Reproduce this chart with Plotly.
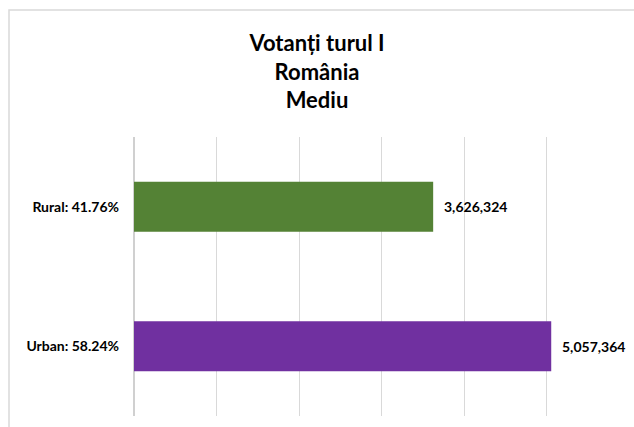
import plotly.graph_objects as go

categories = ["Urban: 58.24%", "Rural: 41.76%"]
values = [5057364, 3626324]
colors = ["#7030A0", "#548235"]
value_labels = ["5,057,364", "3,626,324"]
title_lines = ["Votanți turul I", "România", "Mediu"]

W, H = 634, 427
ml, mr, mt, mb = 134, 5, 137, 11
pw = W - ml - mr
ph = H - mt - mb
FONT = "Lato, Open Sans, sans-serif"

fig = go.Figure()
fig.add_trace(go.Bar(
    y=categories, x=values, orientation="h",
    marker=dict(color=colors, line=dict(width=0)),
    width=0.36,
))

for cat, val, lab in zip(categories, values, value_labels):
    fig.add_annotation(x=val, y=cat, xref="x", yref="y", text="<b>" + lab + "</b>",
                       showarrow=False, xanchor="left", yanchor="middle", xshift=9,
                       font=dict(family=FONT, size=14, color="#000000"))

fig.update_layout(
    width=W, height=H,
    margin=dict(l=ml, r=mr, t=mt, b=mb),
    paper_bgcolor="white", plot_bgcolor="white",
    showlegend=False,
    font=dict(family=FONT),
    title=dict(
        text="<b>" + "<br>".join(title_lines) + "</b>",
        x=(317) / W, xref="container", xanchor="center",
        y=1 - 51 / H, yref="container", yanchor="top",
        font=dict(size=22, color="#000000", family=FONT),
    ),
    xaxis=dict(
        range=[0, 6000000], dtick=1000000, showticklabels=False,
        showgrid=True, gridcolor="#d9d9d9", gridwidth=1,
        zeroline=True, zerolinecolor="#d0d0d0", zerolinewidth=2,
        showline=False, ticks="",
    ),
    yaxis=dict(
        showgrid=False, showline=False, ticks="",
        tickfont=dict(size=14, color="#000000", family=FONT),
        ticklabelstandoff=14,
        tickvals=categories,
        ticktext=["<b>" + c + "</b>" for c in categories],
    ),
)

# chart border (light gray frame)
fig.add_shape(type="rect", xref="paper", yref="paper",
              x0=(9 - ml) / pw, x1=(W + 5 - ml) / pw,
              y0=(-5 - mb) / ph, y1=(H - 10 - mb) / ph,
              line=dict(color="#d9d9d9", width=1.5), fillcolor="rgba(0,0,0,0)", layer="below")

fig.write_html("out.html", config={"displayModeBar": False},
               post_script="document.body.style.margin='0';document.body.style.overflow='hidden';")
